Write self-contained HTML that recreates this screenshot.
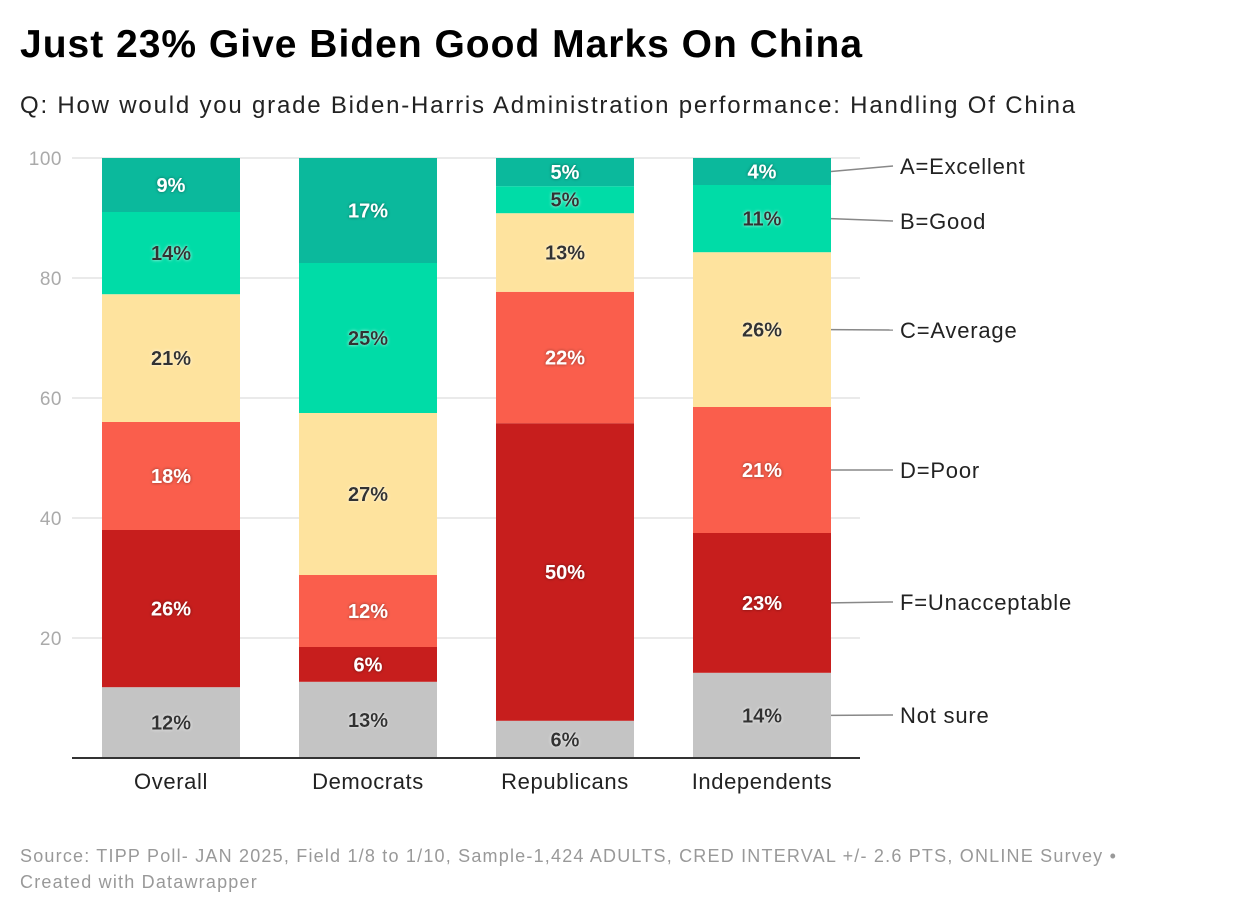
<!DOCTYPE html>
<html><head><meta charset="utf-8"><style>
body{margin:0;background:#fff;width:1240px;height:914px;overflow:hidden;font-family:"Liberation Sans",sans-serif}
#title{position:absolute;left:20px;top:23px;font-size:39px;font-weight:bold;color:#000;margin:0;letter-spacing:1px}
#sub{position:absolute;left:20px;top:92px;font-size:24px;color:#222;letter-spacing:1.8px}
#foot{position:absolute;left:20px;top:843px;font-size:18px;color:#999;line-height:26px;letter-spacing:1.2px}
svg{position:absolute;left:0;top:0}
</style></head><body>
<h1 id="title">Just 23% Give Biden Good Marks On China</h1>
<div id="sub">Q: How would you grade Biden-Harris Administration performance: Handling Of China</div>
<svg id="chart" width="1240" height="914"></svg>
<div id="foot">Source: TIPP Poll- JAN 2025, Field 1/8 to 1/10, Sample-1,424 ADULTS, CRED INTERVAL +/- 2.6 PTS, ONLINE Survey •<br>Created with Datawrapper</div>
<script>
const categories=["Overall","Democrats","Republicans","Independents"];
const seriesNames=["Not sure","F=Unacceptable","D=Poor","C=Average","B=Good","A=Excellent"];
const notSure=[11.8,12.7,6.2,14.2];
const gradeF=[26.2,5.8,49.6,23.3];
const gradeD=[18,12.0,21.9,21.0];
const gradeC=[21.3,27.0,13.1,25.8];
const gradeB=[13.7,25.0,4.5,11.2];
const gradeA=[9,17.5,4.7,4.5];
const labelsNotSure=["12%","13%","6%","14%"];
const labelsF=["26%","6%","50%","23%"];
const labelsD=["18%","12%","22%","21%"];
const labelsC=["21%","27%","13%","26%"];
const labelsB=["14%","25%","5%","11%"];
const labelsA=["9%","17%","5%","4%"];
const yTicks=[20,40,60,80,100];
const series=[notSure,gradeF,gradeD,gradeC,gradeB,gradeA];
const labels=[labelsNotSure,labelsF,labelsD,labelsC,labelsB,labelsA];
const colors=["#c4c4c4","#c71e1d","#fa5e4c","#fee39e","#00dca7","#0bb99c"];
const textCol=["#333","#fff","#fff","#333","#333","#fff"];
const svg=document.getElementById('chart');const NS="http://www.w3.org/2000/svg";
const y=v=>758-v*6; const bx=i=>102+i*197; const bw=138;
function mk(t,a,p){const e=document.createElementNS(NS,t);for(const k in a)e.setAttribute(k,a[k]);(p||svg).appendChild(e);return e;}
const defs=mk('defs',{});const f=mk('filter',{id:'sh',x:'-20%',y:'-20%',width:'140%',height:'140%'},defs);
mk('feDropShadow',{dx:0,dy:0,stdDeviation:1.5,'flood-color':'#000','flood-opacity':0.45},f);
const f2=mk('filter',{id:'shl',x:'-20%',y:'-20%',width:'140%',height:'140%'},defs);
mk('feDropShadow',{dx:0,dy:0,stdDeviation:1.5,'flood-color':'#fff','flood-opacity':0.8},f2);
yTicks.forEach(t=>{
 const g=mk('line',{x1:72,x2:860,y1:y(t),y2:y(t),stroke:'#e3e3e3','stroke-width':1.5});
 
 const l=mk('text',{x:62,y:y(t)+7,'text-anchor':'end','font-size':19,fill:'#aaa','letter-spacing':0.5});l.textContent=t;
 
});
categories.forEach((c,i)=>{
 let base=0;
 series.forEach((s,j)=>{
  const v=s[i];
  const r=mk('rect',{x:bx(i),y:y(base+v),width:bw,height:v*6,fill:colors[j]});
  
  const t=mk('text',{x:bx(i)+bw/2,y:y(base+v/2)+7,'text-anchor':'middle','font-size':20,'font-weight':'bold',fill:textCol[j],filter:textCol[j]=='#fff'?'url(#sh)':'url(#shl)'});
  t.textContent=labels[j][i];
  
  if(i==categories.length-1){
   const my=y(base+v/2);
   const ly=[715,602,470,330,221,166][j];
   const ln=mk('line',{x1:bx(i)+bw,y1:my,x2:893,y2:ly,stroke:'#888','stroke-width':1.5});
   
   const lt=mk('text',{x:900,y:ly+8,'font-size':22,fill:'#222','letter-spacing':0.8});lt.textContent=seriesNames[j];
   
  }
  base+=v;
 });
 const cl=mk('text',{x:bx(i)+bw/2,y:789,'text-anchor':'middle','font-size':22,fill:'#222','letter-spacing':0.6});cl.textContent=c;
 
});
const ax=mk('line',{x1:72,x2:860,y1:758,y2:758,stroke:'#333','stroke-width':2});

</script>
</body></html>
